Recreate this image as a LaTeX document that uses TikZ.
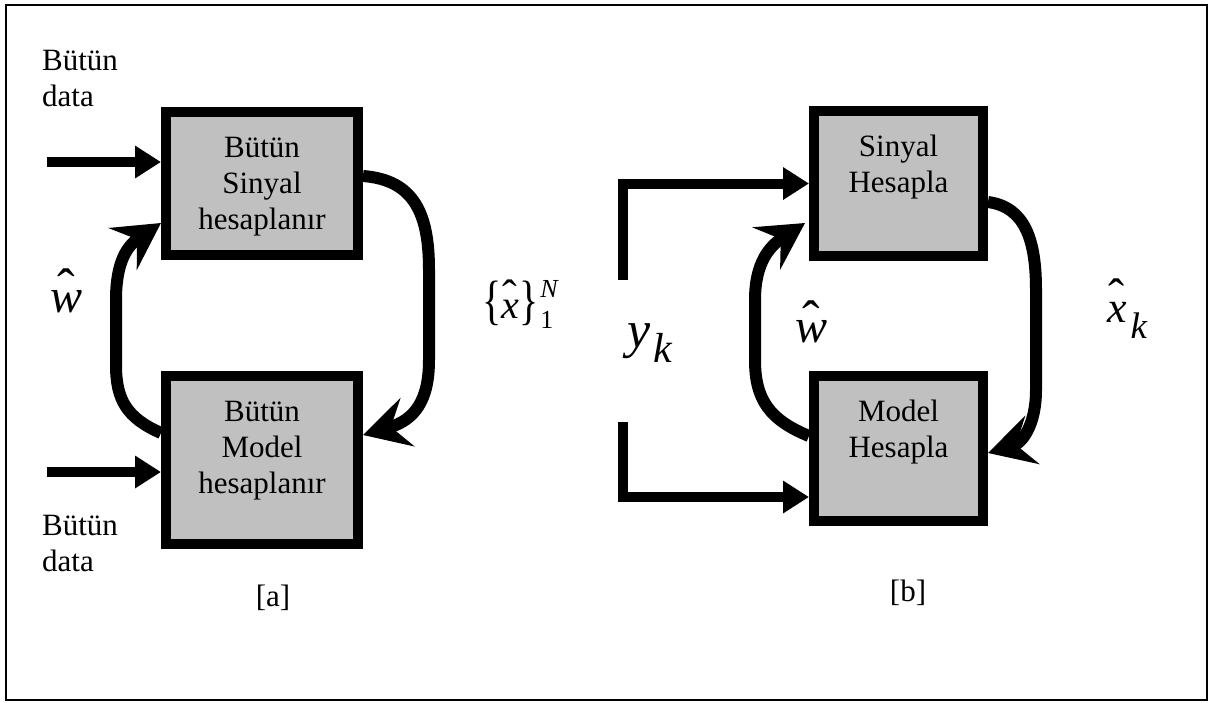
\documentclass[tikz,border=0pt]{standalone}
\usepackage{fontspec}
\setmainfont{Liberation Serif}
\usepackage{graphicx}
\usetikzlibrary{arrows.meta,calc}
\definecolor{boxgray}{HTML}{C0C0C0}

% italic letter with a circumflex set over it (#1 = lift of the circumflex)
\newcommand\hatit[2][0pt]{{\ooalign{\itshape #2\cr\hidewidth\raisebox{#1}{\scalebox{1.1}{\char"02C6}}\hidewidth\cr}}}
% centred box text, first baseline 45pt under the top edge
\newcommand\boxtext[3]{\parbox[c][#2][t]{#1}{\centering\fontsize{31pt}{36pt}\selectfont\rule{0pt}{45pt}#3}}

\begin{document}
\begin{tikzpicture}[x=1pt,y=-1pt,
  procbox/.style={draw=black, line width=10pt, fill=boxgray, rectangle, inner sep=0pt, outer sep=5pt},
  lbl/.style={inner sep=0pt, font=\fontsize{31pt}{36pt}\selectfont},
  sym/.style={inner sep=0pt},
  inarrow/.style={line width=10pt, -{Triangle[length=26pt,width=31pt]}},
  fbarrow/.style={line width=12pt, -{Stealth[length=46pt,width=50pt,inset=17pt]}}]
\useasboundingbox (0,0) rectangle (1213,702);
% frame
\draw[line width=2pt] (6,5) rectangle (1207,700);

% ---- part [a]
\node[procbox] (A1) at (262,183.5) {\boxtext{192pt}{143pt}{Bütün\\Sinyal\\hesaplanır}};
\node[procbox] (A2) at (262,460) {\boxtext{192pt}{168pt}{Bütün\\Model\\hesaplanır}};

\node[lbl, anchor=north west, align=left] (dataA1) at (42,40) {\rule{0pt}{30pt}Bütün\\data};
\node[lbl, anchor=north west, align=left] (dataA2) at (42,505) {\rule{0pt}{30pt}Bütün\\data};
\node[lbl, anchor=base] (capa) at (273,606) {[a]};

\coordinate (inA1) at (47,162);
\coordinate (inA2) at (47,472);
\draw[inarrow] (inA1) -- (inA1 -| A1.west);
\draw[inarrow] (inA2) -- (inA2 -| A2.west);

\draw[fbarrow] ($(A1.east)+(0,-7.5)$) .. controls (415,180) and (429,215) .. (429,270)
  -- (429,360) .. controls (429,400) and (415,420) .. ($(A2.east)+(0,-25)$);
\draw[fbarrow] ($(A2.west)+(0,-27)$) .. controls (127,418) and (116,400) .. (116,365)
  -- (116,300) .. controls (116,262) and (127,246) .. ($(A1.west)+(0,39.5)$);

\node[sym, anchor=base west] (wA) at (50,312) {\fontsize{48pt}{48pt}\selectfont\hatit[7pt]{w}};
\node[sym, anchor=base west] (xset) at (482,318) {\fontsize{40pt}{40pt}\selectfont
  \scalebox{1}[1.35]{\{}\hatit[8pt]{x}\scalebox{1}[1.35]{\}}\kern2pt
  \rlap{\raisebox{21pt}{\fontsize{26pt}{26pt}\selectfont\itshape N}}%
  \raisebox{-10pt}{\fontsize{26pt}{26pt}\selectfont 1}};

% ---- part [b]
\node[procbox] (B1) at (898.5,183.5) {\boxtext{169pt}{145pt}{Sinyal\\Hesapla}};
\node[procbox] (B2) at (898.5,448.5) {\boxtext{169pt}{145pt}{Model\\Hesapla}};
\node[lbl, anchor=base] (capb) at (908,601) {[b]};

\coordinate (ytop) at (623,280);
\coordinate (ybot) at (623,422);
\draw[inarrow] (ytop) |- (B1.west);
\draw[inarrow] (ybot) |- ($(B2.west)+(0,48.5)$);

\draw[fbarrow] ($(B1.east)+(0,18.5)$) .. controls (1025,207) and (1036,240) .. (1036,290)
  -- (1036,390) .. controls (1036,425) and (1022,443) .. ($(B2.east)+(0,4.5)$);
\draw[fbarrow] ($(B2.west)+(0,-12.5)$) .. controls (770,420) and (755,400) .. (755,360)
  -- (755,300) .. controls (755,262) and (770,246) .. ($(B1.west)+(-4,39.5)$);

\node[sym, anchor=base west] (yk) at (627,347) {\fontsize{52pt}{52pt}\selectfont\itshape y\kern3pt\raisebox{-15pt}{\fontsize{42pt}{42pt}\selectfont k}};
\node[sym, anchor=base west] (wB) at (795,342) {\fontsize{48pt}{48pt}\selectfont\hatit[5pt]{w}};
\node[sym, anchor=base west] (xk) at (1107,322) {\fontsize{44pt}{44pt}\selectfont\hatit[10pt]{x}\kern4pt\raisebox{-16pt}{\fontsize{37pt}{37pt}\selectfont\itshape k}};
\end{tikzpicture}
\end{document}
